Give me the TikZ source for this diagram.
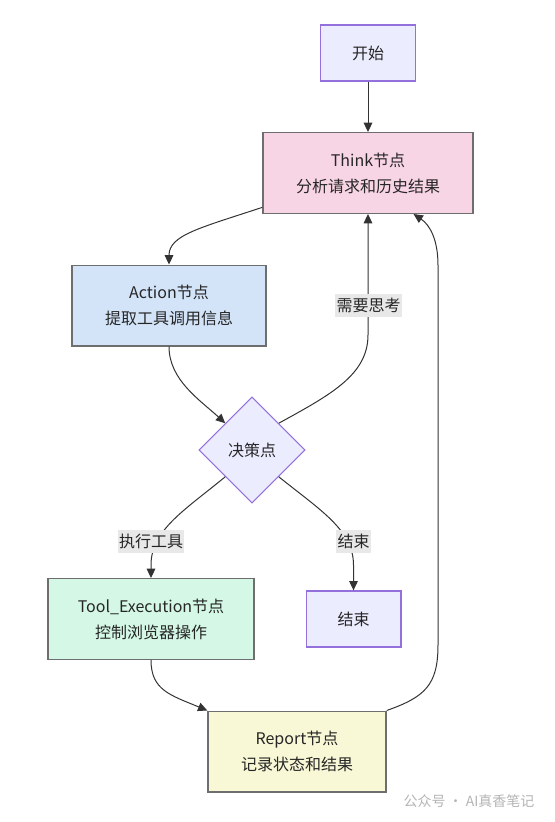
\documentclass[tikz,border=0pt]{standalone}
\usepackage{fontspec}
\setmainfont{Noto Sans CJK SC}
\usetikzlibrary{arrows.meta,shapes.geometric}
\definecolor{lavfill}{HTML}{ECECFF}
\definecolor{lavline}{HTML}{9370DB}
\definecolor{pinkfill}{HTML}{F8D5E4}
\definecolor{bluefill}{HTML}{D3E3F8}
\definecolor{greenfill}{HTML}{D4F7E6}
\definecolor{yellowfill}{HTML}{F8F7D6}
\definecolor{boxline}{HTML}{6E6E6E}
\definecolor{edgeline}{HTML}{333333}
\definecolor{lblfill}{HTML}{E8E8E8}
\definecolor{markgray}{HTML}{B4B4B4}
\begin{document}
\begin{tikzpicture}[x=0.75pt,y=-0.75pt,
    txt/.style={font=\fontsize{12}{19.5}\selectfont,align=center,text=black!85},
    endbox/.style={txt,draw=lavline,fill=lavfill,line width=1pt,minimum width=71pt,minimum height=42pt},
    stepbox/.style={txt,draw=boxline,line width=1pt,minimum height=60.5pt},
    choice/.style={txt,diamond,draw=lavline,fill=lavfill,line width=0.8pt,inner sep=0pt,minimum width=79.5pt,minimum height=79.5pt},
    lbl/.style={txt,fill=lblfill,inner xsep=1pt,inner ysep=3pt},
    link/.style={draw=edgeline,line width=0.75pt,-{Triangle[length=7pt,width=6.5pt]}}]
  \useasboundingbox (0,0) rectangle (555,822);
  \draw
    (368,53) node[endbox] (0){开始}
    (368,173) node[stepbox,fill=pinkfill,minimum width=157.5pt] (1){Think节点\\分析请求和历史结果}
    (169,305.5) node[stepbox,fill=bluefill,minimum width=145.5pt] (2){Action节点\\提取工具调用信息}
    (252,450) node[choice] (3){决策点}
    (151,619) node[stepbox,fill=greenfill,minimum width=154.5pt] (4){Tool\_Execution节点\\控制浏览器操作}
    (353.5,619) node[endbox] (5){结束}
    (297,751.5) node[stepbox,fill=yellowfill,minimum width=133.5pt] (6){Report节点\\记录状态和结果};
  \begin{scope}[link]
    \draw (0.south) -- (1.north);
    \draw (1.198) .. controls (200,228) and (169,235) .. (2.north);
    \draw (2.south) .. controls (169,380) and (200,400) .. (3.north west);
    \draw (3.north east) .. controls (330,395) and (368,375) .. (368,335) -- (1.south);
    \draw (3.south west) .. controls (185,510) and (151,530) .. (151,565) -- (4.north);
    \draw (3.south east) .. controls (320,510) and (353.5,530) .. (353.5,565) -- (5.north);
    \draw (4.south) .. controls (151,690) and (170,695) .. (6.north west);
    \draw (6.north east) .. controls (425,697) and (438,685) .. (438,645) -- (438,265)
      .. controls (438,240) and (430,225) .. (1.-42);
  \end{scope}
  \node[lbl] (l1) at (368.5,305.5) {需要思考};
  \node[lbl] (l2) at (151,541.5) {执行工具};
  \node[lbl] (l3) at (353.5,541.5) {结束};
  \node[font=\fontsize{10.5}{12}\selectfont,text=markgray] (w) at (469,801) {公众号 · AI真香笔记};
\end{tikzpicture}
\end{document}
